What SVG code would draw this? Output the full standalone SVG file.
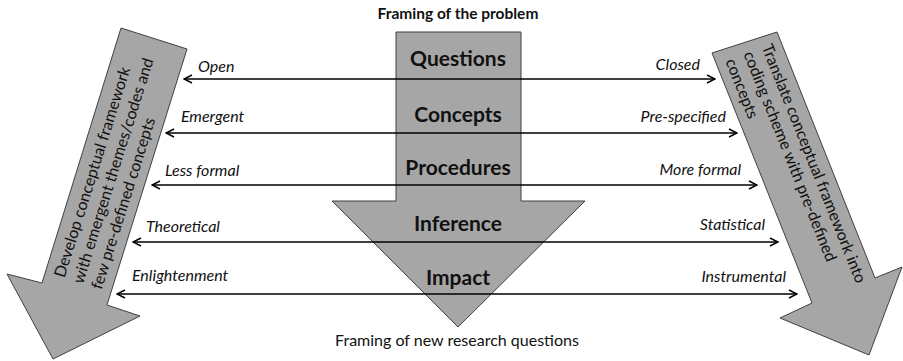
<svg xmlns="http://www.w3.org/2000/svg" width="903" height="361" viewBox="0 0 903 361">
  <style>
    .shape { fill: #a6a6a6; stroke: #404040; stroke-width: 1; }
    .stage { font-family: Lato, "Liberation Sans", sans-serif; font-weight: bold; font-size: 21px; fill: #111; text-anchor: middle; }
    .pole { font-family: Lato, "Liberation Sans", sans-serif; font-style: italic; font-size: 16px; fill: #111; }
    .pole.r { text-anchor: end; }
    .side { font-family: Lato, "Liberation Sans", sans-serif; font-size: 16px; fill: #111; }
    .caption { font-family: Lato, "Liberation Sans", sans-serif; font-size: 16px; fill: #111; text-anchor: middle; }
    .bold { font-weight: bold; font-size: 15.5px; }
    .spectrum { stroke: #000; stroke-width: 1.4; fill: none; marker-start: url(#tip); marker-end: url(#tip); }
  </style>
  <defs>
    <marker id="tip" viewBox="0 0 10 10" refX="9" refY="5" markerWidth="10" markerHeight="10" markerUnits="userSpaceOnUse" orient="auto-start-reverse">
      <path d="M1,1 L9,5 L1,9" fill="none" stroke="#000" stroke-width="1.4"/>
    </marker>
  </defs>

  <!-- captions -->
  <text class="caption bold" x="458" y="19">Framing of the problem</text>
  <text class="caption" x="457" y="346">Framing of new research questions</text>

  <!-- left process arrow -->
  <g id="qualitative">
    <polygon class="shape" points="121,28 187,49 107,305 140,316 53,359 7,274 42,283"/>
    <g transform="translate(42,283) rotate(-72.5)">
      <text class="side" x="11" y="20">Develop conceptual framework</text>
      <text class="side" x="11" y="39.5">with emergent themes/codes and</text>
      <text class="side" x="11" y="59">few pre-defined concepts</text>
    </g>
  </g>

  <!-- right process arrow -->
  <g id="quantitative">
    <polygon class="shape" points="712,53 777,32 875,278 902,267 869,355 780,318 812,303"/>
    <g transform="translate(777,32) rotate(68.2)">
      <text class="side" x="8" y="20">Translate conceptual framework into</text>
      <text class="side" x="8" y="39.5">coding scheme with pre-defined</text>
      <text class="side" x="8" y="59">concepts</text>
    </g>
  </g>

  <!-- central research stages -->
  <g id="stages">
    <polygon class="shape" points="396,32 521,32 521,201 585,201 458,327 332,201 396,201"/>
    <text class="stage" x="458" y="66">Questions</text>
    <text class="stage" x="458" y="122">Concepts</text>
    <text class="stage" x="458" y="175">Procedures</text>
    <text class="stage" x="458" y="231">Inference</text>
    <text class="stage" x="458" y="285">Impact</text>
  </g>

  <!-- spectrum connectors -->
  <g id="connectors">
    <line class="spectrum" x1="184" y1="79" x2="715" y2="79"/>
    <line class="spectrum" x1="166" y1="133" x2="737" y2="133"/>
    <line class="spectrum" x1="152" y1="185" x2="757" y2="185"/>
    <line class="spectrum" x1="133" y1="242" x2="778" y2="242"/>
    <line class="spectrum" x1="117" y1="294" x2="797" y2="294"/>
  </g>

  <!-- spectrum pole labels -->
  <g id="poles">
    <text class="pole" x="198" y="72">Open</text>
    <text class="pole" x="181" y="122">Emergent</text>
    <text class="pole" x="165" y="176">Less formal</text>
    <text class="pole" x="146" y="232">Theoretical</text>
    <text class="pole" x="132" y="281">Enlightenment</text>
    <text class="pole r" x="700" y="70">Closed</text>
    <text class="pole r" x="726" y="122">Pre-specified</text>
    <text class="pole r" x="741" y="175">More formal</text>
    <text class="pole r" x="765" y="230">Statistical</text>
    <text class="pole r" x="786" y="282">Instrumental</text>
  </g>
</svg>
